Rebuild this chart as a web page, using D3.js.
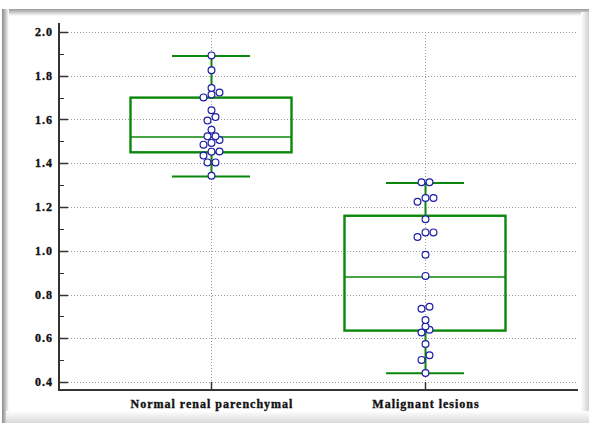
<!DOCTYPE html>
<html><head><meta charset="utf-8">
<script src="https://cdn.jsdelivr.net/npm/d3@7"></script>
<style>
html,body{margin:0;padding:0;background:#fff;}
svg{display:block;}
.lbl{font-family:'Liberation Serif','Times New Roman','DejaVu Serif',serif;font-weight:bold;font-size:12px;letter-spacing:1px;fill:#111;stroke:#111;stroke-width:0.35px;}
</style>
</head><body>
<svg id="c" width="589" height="423"></svg>
<script>
const categories = ["Normal renal parenchymal", "Malignant lesions"];
const boxStats = [
  {q1: 1.45, median: 1.52, q3: 1.70, lo: 1.34, hi: 1.89},
  {q1: 0.635, median: 0.88, q3: 1.16, lo: 0.44, hi: 1.31}
];
const normalValues = [1.893, 1.825, 1.744, 1.723, 1.714, 1.701, 1.642, 1.611, 1.595, 1.553,
  1.523, 1.523, 1.506, 1.493, 1.485, 1.454, 1.453, 1.435, 1.404, 1.404, 1.343];
const malignantValues = [1.313, 1.313, 1.241, 1.241, 1.224, 1.144, 1.084, 1.084, 1.063, 0.982,
  0.885, 0.744, 0.735, 0.683, 0.654, 0.639, 0.626, 0.574, 0.522, 0.501, 0.441];
const yTicks = [0.4, 0.6, 0.8, 1.0, 1.2, 1.4, 1.6, 1.8, 2.0];
const yMinorTicks = [0.5, 0.7, 0.9, 1.1, 1.3, 1.5, 1.7, 1.9];

(function () {
const svg = d3.select("#c");
const defs = svg.append("defs");
function grad(id, x1, y1, x2, y2, stops) {
  const g = defs.append("linearGradient").attr("id", id)
    .attr("x1", x1).attr("y1", y1).attr("x2", x2).attr("y2", y2);
  stops.forEach(s => g.append("stop").attr("offset", s[0]).attr("stop-color", s[1]));
}
grad("gTop", 0, 0, 0, 1, [[0, "#9a9a9a"], [1, "#ffffff"]]);
grad("gLeft", 0, 0, 1, 0, [[0, "#8a8a8a"], [1, "#ffffff"]]);
grad("gRight", 0, 0, 1, 0, [[0, "#ffffff"], [1, "#d0d0d0"]]);
grad("gBot", 0, 0, 0, 1, [[0, "#ffffff"], [1, "#d8d8d8"]]);

// frame bevel
svg.append("rect").attr("x", 2).attr("y", 9).attr("width", 587).attr("height", 7).attr("fill", "url(#gTop)");
svg.append("rect").attr("x", 2).attr("y", 9).attr("width", 7).attr("height", 414).attr("fill", "url(#gLeft)");
svg.append("rect").attr("x", 581).attr("y", 12).attr("width", 8).attr("height", 411).attr("fill", "url(#gRight)");
svg.append("rect").attr("x", 6).attr("y", 411).attr("width", 583).attr("height", 12).attr("fill", "url(#gBot)");

const pLeft = 59, pRight = 578, pTop = 23, pBottom = 390;
const y = d3.scaleLinear().domain([0.4, 2.0]).range([382, 32]);
const x = d3.scalePoint().domain(categories).range([211, 425]);

// grid
const grid = svg.append("g");
grid.selectAll("line.h").data(yTicks).join("line")
  .attr("x1", pLeft + 9).attr("x2", pRight - 1)
  .attr("y1", d => Math.round(y(d)) + 0.5).attr("y2", d => Math.round(y(d)) + 0.5)
  .attr("stroke", "#999").attr("stroke-width", 1).attr("stroke-dasharray", "1,2");
grid.selectAll("line.v").data(categories).join("line")
  .attr("x1", d => x(d) + 0.5).attr("x2", d => x(d) + 0.5)
  .attr("y1", pTop + 9).attr("y2", pBottom - 8)
  .attr("stroke", "#999").attr("stroke-width", 1).attr("stroke-dasharray", "1,2");

// y axis
const yAxis = svg.append("g");
yAxis.append("line").attr("x1", pLeft).attr("x2", pLeft).attr("y1", pTop).attr("y2", pBottom + 1)
  .attr("stroke", "#333").attr("stroke-width", 2);
yAxis.selectAll("line.maj").data(yTicks).join("line")
  .attr("x1", pLeft).attr("x2", pLeft + 9)
  .attr("y1", d => Math.round(y(d)) + 0.5).attr("y2", d => Math.round(y(d)) + 0.5)
  .attr("stroke", "#333").attr("stroke-width", 1.5);
yAxis.selectAll("line.min").data(yMinorTicks).join("line")
  .attr("x1", pLeft).attr("x2", pLeft + 5)
  .attr("y1", d => Math.round(y(d)) + 0.5).attr("y2", d => Math.round(y(d)) + 0.5)
  .attr("stroke", "#333").attr("stroke-width", 1);
yAxis.selectAll("text").data(yTicks).join("text")
  .attr("class", "lbl")
  .attr("x", pLeft - 6).attr("y", d => y(d) + 4)
  .attr("text-anchor", "end")
  .text(d => d.toFixed(1));

// x axis
const xAxis = svg.append("g");
xAxis.append("line").attr("x1", pLeft - 1).attr("x2", pRight).attr("y1", pBottom).attr("y2", pBottom)
  .attr("stroke", "#333").attr("stroke-width", 2);
xAxis.selectAll("line.t").data(categories).join("line")
  .attr("x1", d => x(d) + 0.5).attr("x2", d => x(d) + 0.5).attr("y1", pBottom).attr("y2", pBottom - 8)
  .attr("stroke", "#333").attr("stroke-width", 1.5);
xAxis.selectAll("text").data(categories).join("text")
  .attr("class", "lbl")
  .attr("x", d => x(d) + 1).attr("y", 408)
  .attr("text-anchor", "middle")
  .text(d => d);

// boxes
const green = "#0b870b";
const boxW = 161, capW = 78;
const boxes = svg.append("g");
boxStats.forEach((s, i) => {
  const cx = x(categories[i]);
  const g = boxes.append("g");
  g.append("line").attr("x1", cx + 0.5).attr("x2", cx + 0.5).attr("y1", y(s.hi)).attr("y2", y(s.q3))
    .attr("stroke", green).attr("stroke-width", 2);
  g.append("line").attr("x1", cx + 0.5).attr("x2", cx + 0.5).attr("y1", y(s.q1)).attr("y2", y(s.lo))
    .attr("stroke", green).attr("stroke-width", 2);
  [s.hi, s.lo].forEach(v => g.append("line")
    .attr("x1", cx - capW / 2).attr("x2", cx + capW / 2).attr("y1", y(v)).attr("y2", y(v))
    .attr("stroke", green).attr("stroke-width", 2));
  g.append("rect").attr("x", cx - boxW / 2).attr("y", y(s.q3))
    .attr("width", boxW).attr("height", y(s.q1) - y(s.q3))
    .attr("fill", "none").attr("stroke", green).attr("stroke-width", 2.4);
  g.append("line").attr("x1", cx - boxW / 2).attr("x2", cx + boxW / 2)
    .attr("y1", y(s.median)).attr("y2", y(s.median))
    .attr("stroke", green).attr("stroke-width", 1.6);
});

// dots: values grouped into small clusters (within binTol), each cluster spread symmetrically
const r = 3.4, spacing = 8, binTol = 0.025;
function arrange(vals) {
  const sorted = vals.slice().sort((a, b) => a - b);
  const out = [];
  let i = 0;
  while (i < sorted.length) {
    const start = sorted[i];
    const bin = [];
    while (i < sorted.length && sorted[i] - start <= binTol) { bin.push(sorted[i]); i++; }
    const n = bin.length;
    bin.forEach((v, j) => out.push({v, dx: (j - (n - 1) / 2) * spacing}));
  }
  return out;
}
[normalValues, malignantValues].forEach((vals, i) => {
  const cx = x(categories[i]) + 0.5;
  svg.append("g").selectAll("circle").data(arrange(vals)).join("circle")
    .attr("cx", d => cx + d.dx).attr("cy", d => y(d.v)).attr("r", r)
    .attr("fill", "#fff").attr("stroke", "#1c1ca6").attr("stroke-width", 1.2);
});
})();
</script>
</body></html>
